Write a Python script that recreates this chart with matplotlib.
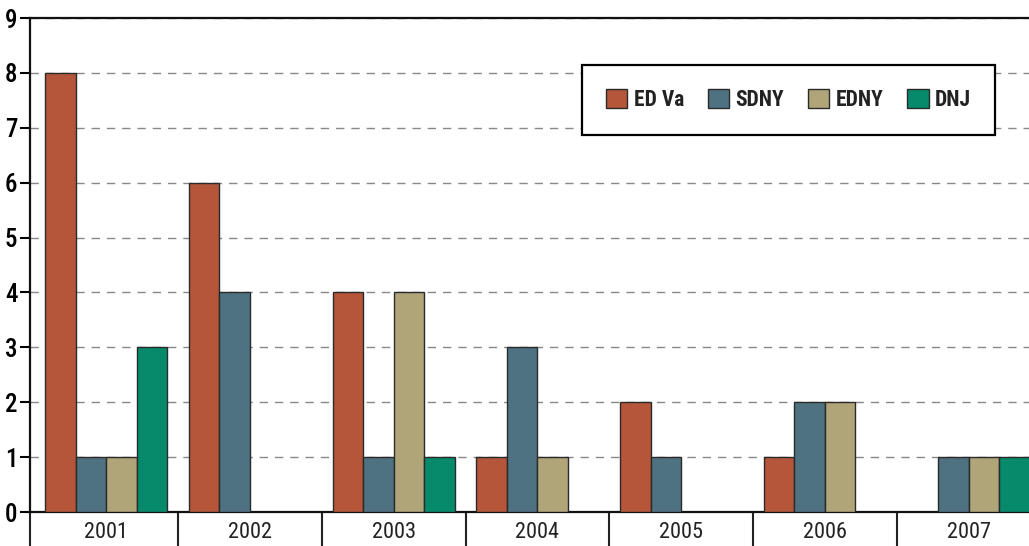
import matplotlib.pyplot as plt
from matplotlib import font_manager
import numpy as np

# data
years = ['2001', '2002', '2003', '2004', '2005', '2006', '2007']
courts = ['ED Va', 'SDNY', 'EDNY', 'DNJ']
ed_va = [8, 6, 4, 1, 2, 1, 0]
sdny = [1, 4, 1, 3, 1, 2, 1]
edny = [1, 0, 4, 1, 0, 2, 1]
dnj = [3, 0, 1, 0, 0, 0, 1]
colors = ['#B5553A', '#4F7282', '#AFA578', '#078A6B']

# pick a narrow face if there is one
have = {f.name for f in font_manager.fontManager.ttflist}
fams = [f for f in ['Liberation Sans Narrow', 'DejaVu Sans Condensed', 'Roboto Condensed', 'Roboto']
        if f in have] + ['DejaVu Sans']
plt.rcParams['font.family'] = fams

fig = plt.figure(figsize=(10.29, 5.46), dpi=100)
ax = fig.add_axes([30 / 1029, 34 / 546, 999 / 1029, 494 / 546])

x = np.arange(len(years))
w = 0.212
series = [ed_va, sdny, edny, dnj]
for k, (vals, name) in enumerate(zip(series, courts)):
    # zero values are not drawn
    xs = [xi + (k - 1.5) * w for xi, v in zip(x, vals) if v > 0]
    vs = [v for v in vals if v > 0]
    ax.bar(xs, vs, width=w, color=colors[k], edgecolor='#2a2a2a',
           linewidth=1.0, label=name, zorder=3)

ax.set_xlim(-0.53, 6.42)
ax.set_ylim(0, 9)
ax.set_yticks(range(10))
ax.tick_params(axis='y', length=7, width=1.5, labelsize=18, pad=2)
for t in ax.get_yticklabels():
    t.set_fontweight('medium')

ax.set_xticks(x)
ax.set_xticklabels(years, fontsize=16, color='#222222')
ax.tick_params(axis='x', which='major', length=0, pad=7)
ax.set_xticks([-0.53] + [i + 0.5 for i in range(6)], minor=True)
ax.tick_params(axis='x', which='minor', length=34, width=1.5, color='#222222')

ax.yaxis.grid(True, linestyle=(0, (6, 5)), color='#888888', linewidth=1.0, zorder=0)
ax.spines['right'].set_visible(False)
for s in ['left', 'bottom', 'top']:
    ax.spines[s].set_linewidth(1.6)
    ax.spines[s].set_color('#111111')

leg = ax.legend(ncol=4, loc='center',
                bbox_to_anchor=((583 + 994) / 2 / 1029, 1 - 100 / 546),
                bbox_transform=fig.transFigure, fancybox=False,
                edgecolor='black', framealpha=1, borderpad=1.1,
                columnspacing=1.1, borderaxespad=0,
                handlelength=1.0, handleheight=1.0, handletextpad=0.3,
                prop={'size': 15.5, 'weight': 'bold'})
leg.get_frame().set_linewidth(1.6)
for t in leg.get_texts():
    t.set_color('#222222')

fig.savefig('out.png', dpi=100)
